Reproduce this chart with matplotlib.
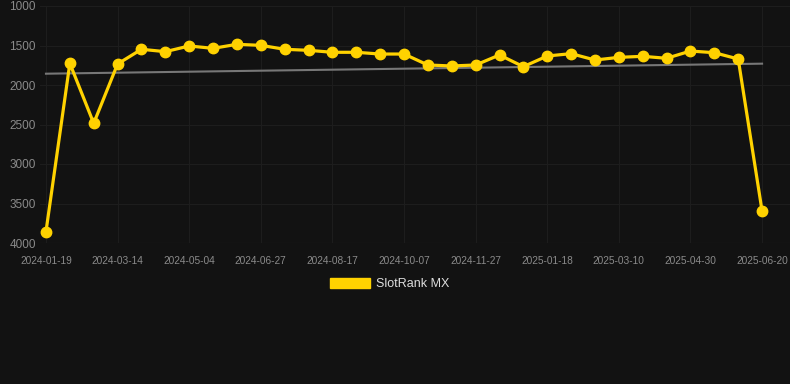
import matplotlib.pyplot as plt
import matplotlib.patches as mpatches
import numpy as np

# rank values (lower is better), one point roughly every 17 days
ranks = [3857, 1726, 2485, 1734, 1548, 1578, 1506, 1536, 1485, 1498,
         1548, 1561, 1586, 1586, 1608, 1608, 1747, 1759, 1747, 1620,
         1768, 1633, 1603, 1684, 1650, 1637, 1662, 1570, 1591, 1671, 3595]
tick_labels = ["2024-01-19", "2024-03-14", "2024-05-04", "2024-06-27",
               "2024-08-17", "2024-10-07", "2024-11-27", "2025-01-18",
               "2025-03-10", "2025-04-30", "2025-06-20"]
trend_start = 1857
trend_end = 1730
series_name = "SlotRank MX"

bg = "#121212"
gold = "#FFD200"

def main():
    plt.rcParams['font.family'] = ['Liberation Sans', 'DejaVu Sans']

    fig = plt.figure(figsize=(7.9, 3.84), dpi=100, facecolor=bg)
    ax = fig.add_axes([40 / 790, 1 - 243 / 384, 750 / 790, 237 / 384])
    ax.set_facecolor(bg)

    x = np.arange(len(ranks))
    ax.plot([x[0], x[-1]], [trend_start, trend_end], color="#777777", lw=1.5, zorder=2)
    ax.plot(x, ranks, color=gold, lw=2.3, marker="o", markersize=7.5, zorder=3)

    ax.set_ylim(4000, 1000)
    ax.set_xlim(-0.25, 31.17)
    ax.set_yticks([1000, 1500, 2000, 2500, 3000, 3500, 4000])
    ax.set_xticks(x[::3])
    ax.set_xticklabels(tick_labels)

    ax.grid(True, color="#1d1d1d", lw=0.8, zorder=0)
    for s in ax.spines.values():
        s.set_visible(False)
    ax.axhline(4000, color="#2a2a2a", lw=0.8, zorder=1)
    ax.tick_params(axis="x", length=0, pad=9, labelsize=7.3, colors="#8a8a8a")
    ax.tick_params(axis="y", length=0, pad=3, labelsize=8.5, colors="#8a8a8a")

    handle = mpatches.Patch(color=gold, label=series_name)
    leg = fig.legend(handles=[handle], loc="center", bbox_to_anchor=(390 / 790, 1 - 284 / 384),
                     frameon=False, fontsize=9, handlelength=3.2, handleheight=0.95,
                     handletextpad=0.5)
    for t in leg.get_texts():
        t.set_color("#dddddd")

    fig.savefig("out.png", dpi=100, facecolor=bg)

if __name__ == "__main__":
    main()
